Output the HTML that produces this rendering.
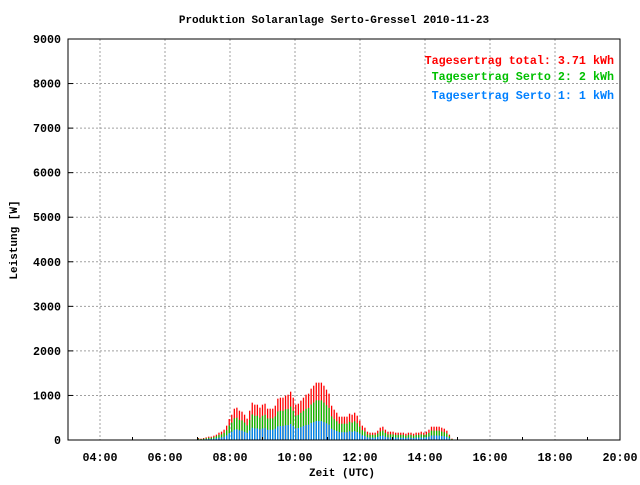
<!DOCTYPE html>
<html><head><meta charset="utf-8"><style>
html,body{margin:0;padding:0;background:#fff;}
svg text{font-family:"Liberation Mono","DejaVu Sans Mono",monospace;font-weight:bold;}
</style></head><body>
<svg id="chart" width="640" height="480" xmlns="http://www.w3.org/2000/svg">
<rect width="640" height="480" fill="#fff"/>
<text x="334" y="23" font-size="11" text-anchor="middle">Produktion Solaranlage Serto-Gressel 2010-11-23</text>
<g id="grid"></g>
<g id="bars"></g>
<g id="axes"></g>
<rect x="68" y="39" width="552" height="401" fill="none" stroke="#000" stroke-width="1"/>
<text transform="translate(17,240) rotate(-90)" font-size="11" text-anchor="middle">Leistung [W]</text>
<text x="342" y="476" font-size="11" text-anchor="middle">Zeit (UTC)</text>
<text x="614" y="64" font-size="11.7" text-anchor="end" fill="#ff0000">Tagesertrag total: 3.71 kWh</text>
<text x="614" y="80" font-size="11.7" text-anchor="end" fill="#00c000">Tagesertrag Serto 2: 2 kWh</text>
<text x="614" y="99" font-size="11.7" text-anchor="end" fill="#0080ff">Tagesertrag Serto 1: 1 kWh</text>
</svg>
<script>
const yTicks=[0,1000,2000,3000,4000,5000,6000,7000,8000,9000];
const xTickHours=[4,6,8,10,12,14,16,18,20];
const xTickLabels=["04:00","06:00","08:00","10:00","12:00","14:00","16:00","18:00","20:00"];
const startHour=7.03, endHour=14.83;
const total=[45,30,45,60,75,75,97,120,165,187,232,322,471,568,703,726,658,636,568,479,658,838,793,793,726,793,815,703,703,703,770,928,950,950,995,1017,1085,950,793,815,883,950,1017,1040,1152,1219,1287,1287,1287,1219,1130,1040,770,681,613,524,524,524,524,591,568,613,546,434,322,277,187,165,165,165,209,277,299,232,187,187,187,165,165,165,165,142,165,165,142,165,165,187,165,187,232,299,299,299,299,277,254,209,120,30];
const serto1=[15,10,15,20,25,25,30,40,55,60,75,105,155,185,230,240,215,210,185,160,215,275,260,260,240,260,270,230,230,230,255,305,315,315,330,335,360,315,260,270,290,315,335,345,380,400,425,425,425,400,375,345,255,225,200,175,175,175,175,195,185,200,180,145,105,90,60,55,55,55,70,90,100,75,60,60,60,55,55,55,55,45,55,55,45,55,55,60,55,60,75,100,100,100,100,90,85,70,40,10];
const serto2=[15,10,15,20,25,25,35,45,60,65,85,115,170,205,255,260,235,230,205,170,235,300,285,285,260,285,295,255,255,255,275,335,340,340,360,365,390,340,285,295,320,340,365,375,415,440,465,465,465,440,405,375,275,245,220,190,190,190,190,215,205,220,195,155,115,100,65,60,60,60,75,100,110,85,65,65,65,60,60,60,60,50,60,60,50,60,60,65,60,65,85,110,110,110,110,100,90,75,45,10];
const X0=68,X1=620,Y0=440,Y1=39;
function xs(h){return 100+(h-4)*32.5;}
function ys(v){return Y0-(v/9000)*(Y0-Y1);}
const NS="http://www.w3.org/2000/svg";
function mk(tag,attrs,parent){const e=document.createElementNS(NS,tag);for(const k in attrs)e.setAttribute(k,attrs[k]);parent.appendChild(e);return e;}
const grid=document.getElementById('grid'),axes=document.getElementById('axes'),bars=document.getElementById('bars');
yTicks.forEach(v=>{const y=ys(v);
 if(v>0&&v<9000){const l=mk('line',{x1:X0,x2:X1,y1:y,y2:y,stroke:'#a0a0a0','stroke-dasharray':'2,2'},grid);
 
 }
 const t=mk('text',{x:61,y:y+4,'font-size':11.7,'text-anchor':'end'},axes);t.textContent=v;
 
 
 const tk=mk('line',{x1:X0,x2:X0+5,y1:y,y2:y,stroke:'#000'},axes);
 
 
});
xTickHours.forEach((h,i)=>{const x=xs(h);
 const l=mk('line',{x1:x,x2:x,y1:Y1,y2:Y0,stroke:'#a0a0a0','stroke-dasharray':'2,2'},grid);
 
 
 const t=mk('text',{x:x,y:461,'font-size':11.7,'text-anchor':'middle'},axes);t.textContent=xTickLabels[i];
 
 
 const mx=xs(h+1);
 const m=mk('line',{x1:mx,x2:mx,y1:Y0,y2:Y0-3,stroke:'#000'},axes);
 
 
});
const n=total.length;
for(let i=0;i<n;i++){
 const h=startHour+(endHour-startHour)*i/(n-1);const x=xs(h);
 const b1=ys(serto1[i]),b2=ys(serto1[i]+serto2[i]),bt=ys(Math.max(total[i],serto1[i]+serto2[i]));
 const r=mk('line',{x1:x,x2:x,y1:Y0,y2:bt,stroke:'#ff0000','stroke-width':1.3},bars);
 
 
 const g=mk('line',{x1:x,x2:x,y1:Y0,y2:b2,stroke:'#00c000','stroke-width':1.3},bars);
 
 
 const b=mk('line',{x1:x,x2:x,y1:Y0,y2:b1,stroke:'#0080ff','stroke-width':1.3},bars);
 
 
}
</script>
</body></html>
